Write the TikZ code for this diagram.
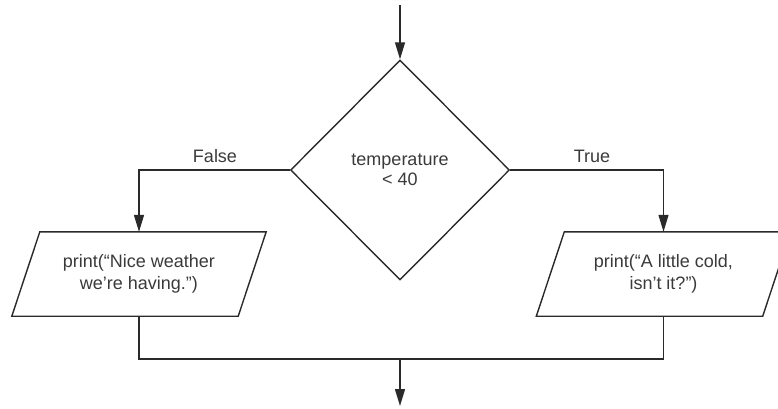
\documentclass[tikz,border=0pt]{standalone}
\usepackage{fontspec}
\setmainfont{Liberation Sans}
\usetikzlibrary{arrows.meta,shapes.geometric}
\definecolor{linec}{HTML}{2A2A2A}
\definecolor{textc}{HTML}{3A3A3A}
\tikzset{
  x=1pt, y=-1pt,
  every node/.style={text=textc, font=\fontsize{18}{21.5}\selectfont},
  line/.style={draw=linec, line width=1.4pt},
  arr/.style={line, -{Triangle[length=17pt,width=10pt]}},
  decision/.style={shape=diamond, draw=linec, line width=1.4pt, minimum width=219pt, minimum height=220pt, inner sep=0pt, align=center},
  io/.style={shape=rectangle, minimum width=226pt, minimum height=84pt, inner sep=0pt, align=center},
  ioedge/.style={line, line join=miter},
  lbl/.style={anchor=base}
}
\begin{document}
\begin{tikzpicture}
\useasboundingbox (0,0) rectangle (778,408);
\node[decision] (dec) at (400,170) {temperature\\[-1pt]< 40};
\node[io] (p1) at (139,274) {print(“Nice weather\\we’re having.”)};
\node[io] (p2) at (663.5,274) {print(“A little cold,\\isn’t it?”)};
\foreach \n in {p1,p2}{
  \draw[ioedge] ([xshift=14pt]\n.north west) -- ([xshift=14pt]\n.north east)
    -- ([xshift=-14pt]\n.south east) -- ([xshift=-14pt]\n.south west) -- cycle;
}
\coordinate (start) at (400,5);
\coordinate (m) at (400,359);
\coordinate (end) at (400,406);
\draw[arr] (start) -- (dec.north);
\draw[arr] (dec.west) -| (p1.north);
\draw[arr] (dec.east) -| (p2.north);
\draw[line] (p1.south) |- (m) -| (p2.south);
\draw[arr] (m) -- (end);
\node[lbl] (lf) at (215,162) {False};
\node[lbl] (lt) at (592,162) {True};
\end{tikzpicture}
\end{document}
